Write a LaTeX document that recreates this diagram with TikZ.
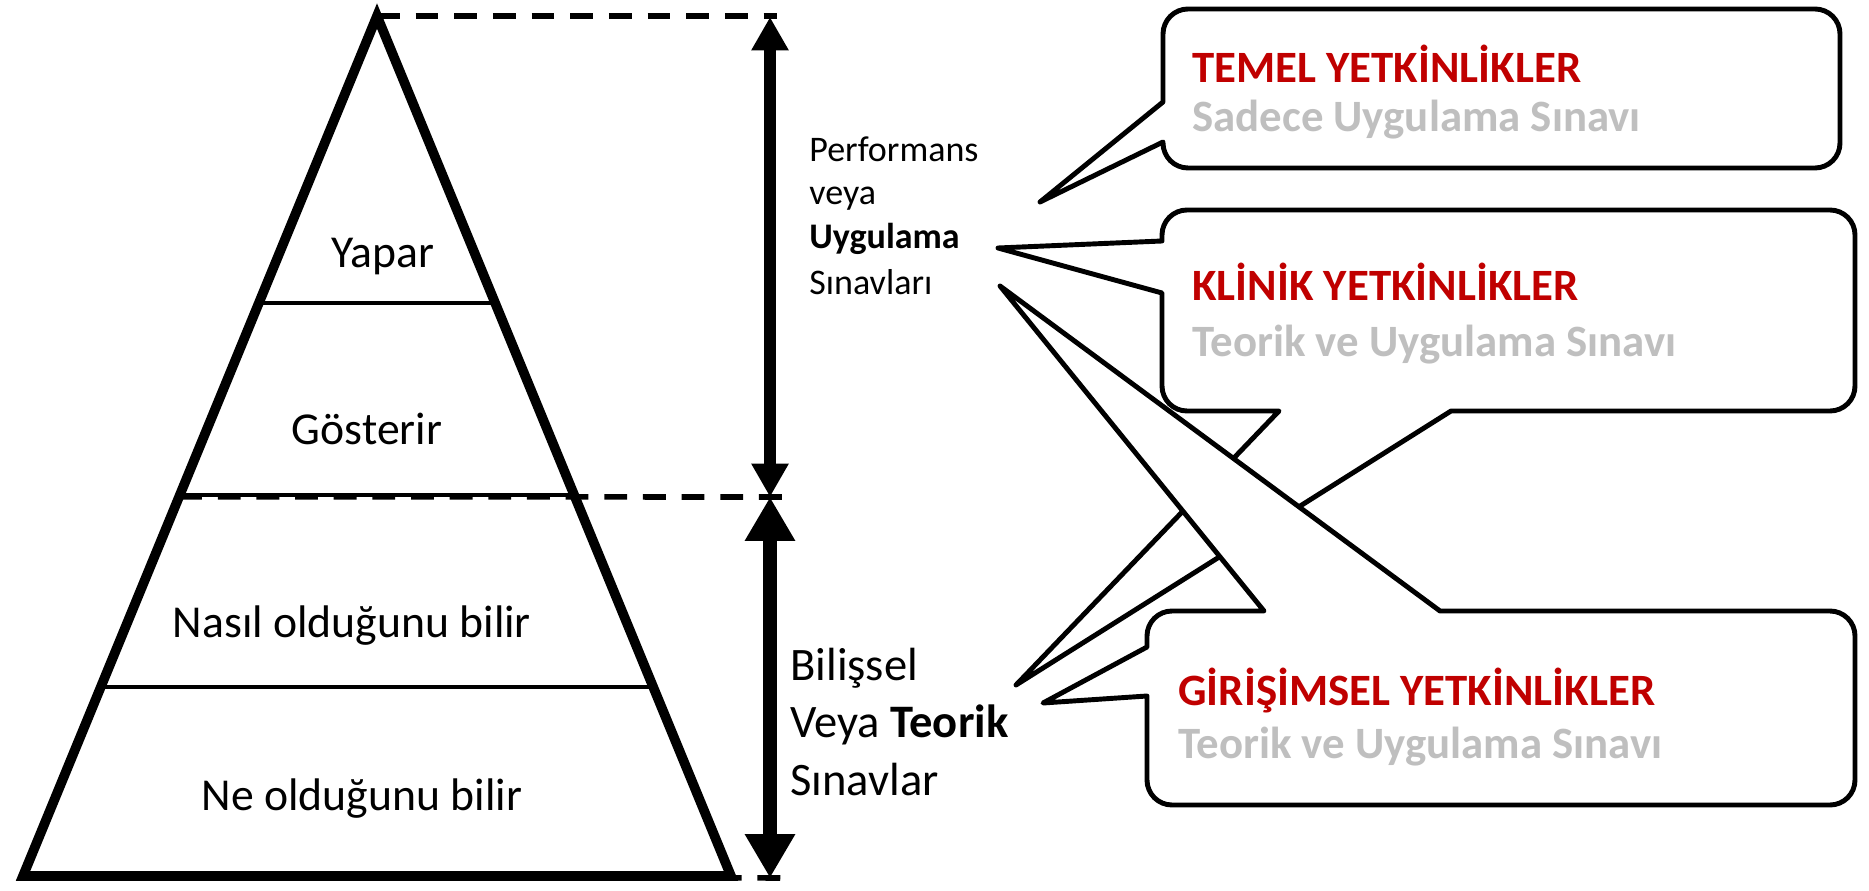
\documentclass[tikz,border=0pt]{standalone}
\usepackage{fontspec}
\setmainfont{Carlito}
\usetikzlibrary{arrows.meta,calc}
\definecolor{kirmizi}{HTML}{C00000}
\definecolor{gri}{HTML}{BFBFBF}
\def\rr{0.5cm}
\begin{document}
\begin{tikzpicture}[x=0.02cm,y=-0.02cm,
    seviye/.style={font=\fontsize{26}{30}\selectfont,anchor=base,inner sep=0},
    kucuk/.style={font=\fontsize{20.5}{24}\selectfont,anchor=base west,inner sep=0},
    buyuk/.style={font=\fontsize{26.5}{30}\selectfont,anchor=base west,inner sep=0},
    baslik/.style={font=\fontsize{25.5}{30}\selectfont\bfseries,text=kirmizi,anchor=base west,inner sep=0},
    alt/.style={font=\fontsize{25.5}{30}\selectfont\bfseries,text=gri,anchor=base west,inner sep=0},
    balon/.style={draw,fill=white,line width=2.8pt,line join=round},
    kesik/.style={line width=3.2pt,dash pattern=on 13pt off 9pt}]
  \useasboundingbox (0,0) rectangle (1869,891);
  % piramit
  \coordinate (1) at (377,16);
  \coordinate (2) at (23,876);
  \coordinate (3) at (731,876);
  \coordinate (a1) at (770,17);
  \coordinate (a2) at (770,497);
  \coordinate (a3) at (770,878);
  \coordinate (d1) at (777,16);
  \coordinate (d2) at (791,497);
  \coordinate (d3) at (791,878);
  \draw[kesik] (1) -- (d1);
  \draw[kesik] ($(1)!.559!(2)$) -- (d2);
  \draw[kesik] (2) -- (d3);
  \draw[line width=2.3pt] ($(1)!.334!(2)$) -- ($(1)!.334!(3)$);
  \draw[line width=2.3pt] ($(1)!.557!(2)$) -- ($(1)!.557!(3)$);
  \draw[line width=2.3pt] ($(1)!.780!(2)$) -- ($(1)!.780!(3)$);
  \draw[line width=5.5pt,line join=miter] (1) -- (2) -- (3) -- cycle;
  \node[seviye] (yapar) at (383,268) {Yapar};
  \node[seviye] (gosterir) at (367,445) {Gösterir};
  \node[seviye] (nasil) at (352,637) {Nasıl olduğunu bilir};
  \node[seviye] (ne) at (362,810) {Ne olduğunu bilir};
  % oklar
  \draw[line width=6.8pt,{Triangle[width=20pt,length=19pt]}-{Triangle[width=20pt,length=19pt]}] (a1) -- (a2);
  \draw[line width=8.5pt,{Triangle[width=27pt,length=25pt]}-{Triangle[width=27pt,length=25pt]}] (a2) -- (a3);
  \node[kucuk] (p1) at (809,162) {Performans};
  \node[kucuk] (p2) at (809,205) {veya};
  \node[kucuk] (p3) at (809,249) {\textbf{Uygulama}};
  \node[kucuk] (p4) at (809,295) {Sınavları};
  \node[buyuk] (b1) at (790,680) {Bilişsel};
  \node[buyuk] (b2) at (790,737) {Veya \textbf{Teorik}};
  \node[buyuk] (b3) at (790,795) {Sınavlar};
  % balonlar
  \draw[balon] (1163,142) -- (1163,143) arc(180:270:\rr) -- (1815,168) arc(270:360:\rr)
    -- (1840,34) arc(0:90:\rr) -- (1188,9) arc(90:180:\rr) -- (1163,102) -- (1040,202) -- cycle;
  \draw[balon] (1162,293) -- (1162,386) arc(180:270:\rr) -- (1279,411) -- (1016,685)
    -- (1451,411) -- (1830,411) arc(270:360:\rr) -- (1855,235) arc(0:90:\rr)
    -- (1187,210) arc(90:180:\rr) -- (1162,241) -- (998,248) -- cycle;
  \draw[balon] (1147,696) -- (1147,780) arc(180:270:\rr) -- (1830,805) arc(270:360:\rr)
    -- (1855,636) arc(0:90:\rr) -- (1440,611) -- (1000,286) -- (1264,611)
    -- (1172,611) arc(90:180:\rr) -- (1147,647) -- (1043,703) -- cycle;
  \node[baslik] (t1) at (1192,83) {TEMEL YETKİNLİKLER};
  \node[alt] (s1) at (1192,132) {Sadece Uygulama Sınavı};
  \node[baslik] (t2) at (1192,301) {KLİNİK YETKİNLİKLER};
  \node[alt] (s2) at (1192,357) {Teorik ve Uygulama Sınavı};
  \node[baslik] (t3) at (1178,705) {GİRİŞİMSEL YETKİNLİKLER};
  \node[alt] (s3) at (1178,758) {Teorik ve Uygulama Sınavı};
\end{tikzpicture}
\end{document}
